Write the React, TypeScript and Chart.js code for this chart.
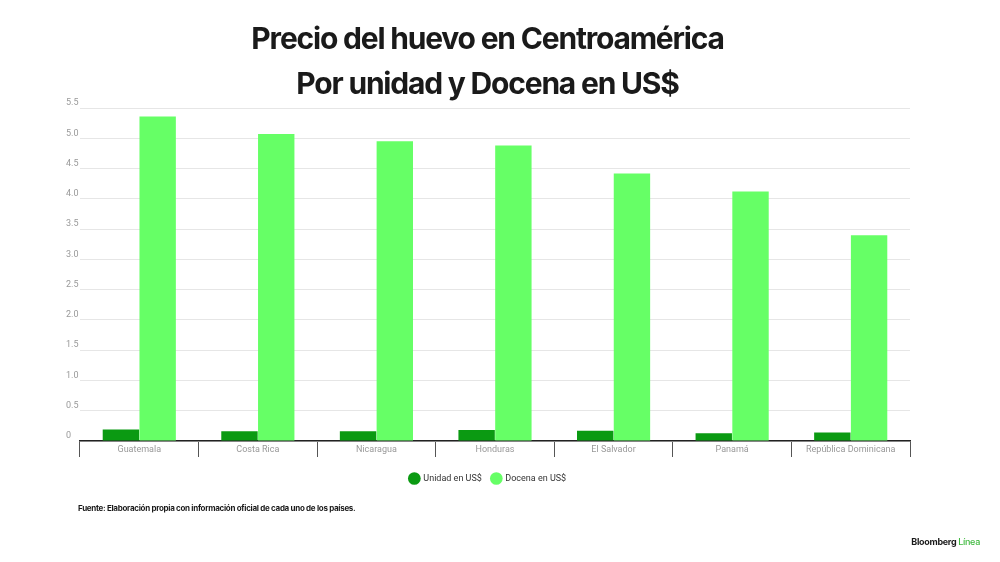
import React, { useEffect, useRef } from "react";
import { Chart, registerables } from "chart.js";

Chart.register(...registerables);

const categories = [
  "Guatemala",
  "Costa Rica",
  "Nicaragua",
  "Honduras",
  "El Salvador",
  "Panamá",
  "República Dominicana",
];
const unidad = [0.19, 0.16, 0.16, 0.18, 0.17, 0.13, 0.14];
const docena = [5.36, 5.07, 4.95, 4.88, 4.42, 4.12, 3.4];
const seriesNames = ["Unidad en US$", "Docena en US$"];
const yMin = 0;
const yMax = 5.5;
const yStep = 0.5;

const titleLines = ["Precio del huevo en Centroamérica", "Por unidad y Docena en US$"];
const sourceText = "Fuente: Elaboración propia con información oficial de cada uno de los países.";

export default function App() {
  const ref = useRef<HTMLCanvasElement | null>(null);

  useEffect(() => {
    if (!ref.current) return;
    const chart = new Chart(ref.current, {
      type: "bar",
      data: {
        labels: categories,
        datasets: [
          {
            label: seriesNames[0],
            data: unidad,
            backgroundColor: "#0b9a12",
            borderWidth: 0,
            barPercentage: 0.99,
            categoryPercentage: 0.62,
          },
          {
            label: seriesNames[1],
            data: docena,
            backgroundColor: "#66ff66",
            borderWidth: 0,
            barPercentage: 0.99,
            categoryPercentage: 0.62,
          },
        ],
      },
      options: {
        animation: false,
        responsive: false,
        maintainAspectRatio: false,
        layout: { padding: { left: 66, right: 90, top: 108, bottom: 69 } },
        plugins: {
          title: { display: false },
          tooltip: { enabled: false },
          legend: {
            position: "bottom",
            labels: {
              usePointStyle: true,
              pointStyle: "circle",
              boxWidth: 10,
              boxHeight: 10,
              padding: 10,
              color: "#333",
              font: { family: "Roboto", size: 9 },
            },
          },
        },
        scales: {
          x: {
            afterFit: (scale: any) => {
              scale.height = 23;
            },
            grid: {
              display: true,
              offset: true,
              drawOnChartArea: false,
              drawTicks: true,
              tickLength: 16,
              color: "#555",
              lineWidth: 1,
            },
            border: { display: true, color: "#222", width: 1.5 },
            ticks: {
              color: "#999",
              font: { family: "Roboto", size: 9 },
              padding: -13,
              maxRotation: 0,
              autoSkip: false,
            },
          },
          y: {
            min: yMin,
            max: yMax,
            afterFit: (scale: any) => {
              scale.width = 14;
            },
            grid: { color: "#e6e6e6", lineWidth: 1, drawTicks: false },
            border: { display: false },
            ticks: {
              stepSize: yStep,
              color: "#999",
              font: { family: "Roboto", size: 9 },
              crossAlign: "far",
              padding: 0,
              labelOffset: -5,
              callback: (v: any) => (Number(v) === 0 ? "0" : Number(v).toFixed(1)),
            },
          },
        },
      },
    });
    return () => chart.destroy();
  }, []);

  return (
    <div
      style={{
        position: "absolute",
        left: 0,
        top: 0,
        width: 1000,
        height: 562,
        background: "#fff",
        overflow: "hidden",
      }}
    >
      <canvas ref={ref} width={1000} height={562} style={{ position: "absolute", left: 0, top: 0 }} />
      <div
        style={{
          position: "absolute",
          left: 0,
          top: 16,
          width: 975,
          textAlign: "center",
          fontFamily: "Inter, sans-serif",
          fontWeight: 700,
          fontSize: 30,
          lineHeight: "45px",
          letterSpacing: "-1.2px",
          color: "#1a1a1a",
        }}
      >
        {titleLines.map((t, i) => (
          <div key={i}>{t}</div>
        ))}
      </div>
      <div
        style={{
          position: "absolute",
          left: 78,
          top: 503,
          fontFamily: "Inter, sans-serif",
          fontWeight: 700,
          fontSize: 8,
          letterSpacing: "-0.3px",
          color: "#1a1a1a",
          whiteSpace: "nowrap",
        }}
      >
        {sourceText}
      </div>
      <div
        style={{
          position: "absolute",
          right: 20,
          top: 536,
          fontFamily: "Inter, sans-serif",
          fontWeight: 700,
          fontSize: 9,
          letterSpacing: "-0.3px",
          color: "#1a1a1a",
          whiteSpace: "nowrap",
        }}
      >
        Bloomberg <span style={{ color: "#3db83d", fontWeight: 500 }}>Línea</span>
      </div>
    </div>
  );
}
